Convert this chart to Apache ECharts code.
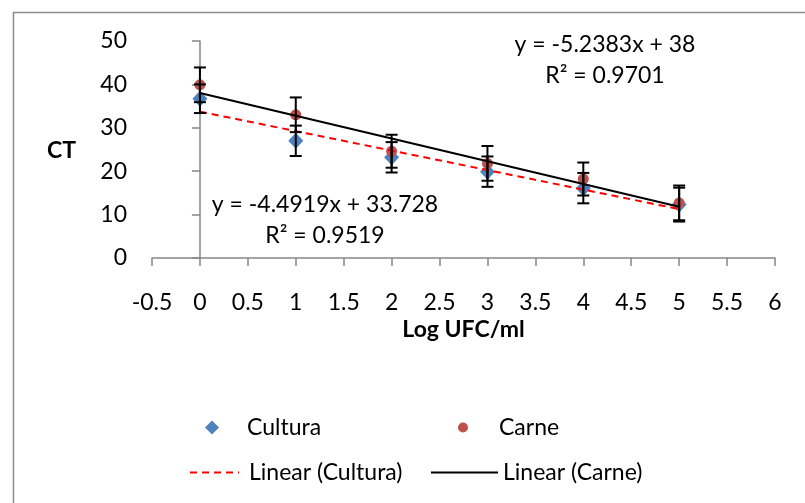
<!DOCTYPE html>
<html>
<head>
<meta charset="utf-8">
<script src="https://cdn.jsdelivr.net/npm/echarts@6/dist/echarts.min.js"></script>
<style>
  html, body { margin: 0; padding: 0; background: #fff; }
  #chart { width: 805px; height: 503px; }
</style>
</head>
<body>
<div id="chart"></div>
<script>
// log UFC/ml dilutions
const logUfc = [0, 1, 2, 3, 4, 5]

// CT means and error (std) per series
const ctCultura = [36.7, 27.0, 23.2, 19.9, 16.1, 12.3]
const errCultura = [3.3, 3.5, 3.5, 3.5, 3.5, 3.9]
const ctCarne = [39.9, 33.0, 24.6, 21.8, 18.2, 12.7]
const errCarne = [4.0, 4.0, 3.8, 4.0, 3.8, 4.0]

// trendline coefficients as printed on the chart: [slope, intercept]
const fitCultura = [-4.4919, 33.728]
const fitCarne = [-5.2383, 38]
const r2Cultura = '0.9519'
const r2Carne = '0.9701'

const xTicks = { min: -0.5, max: 6, interval: 0.5 }
const yTicks = { min: 0, max: 50, interval: 10 }

const FONT = 'Lato'
const FS = 23
const chart = echarts.init(document.getElementById('chart'))

const pts = (xs, ys) => xs.map((x, i) => [x, ys[i]])
const bars = (xs, ys, es) => xs.map((x, i) => [x, ys[i] - es[i], ys[i] + es[i]])
const trend = (fit) => {
  const x0 = logUfc[0], x1 = logUfc[logUfc.length - 1]
  return [[x0, fit[0] * x0 + fit[1]], [x1, fit[0] * x1 + fit[1]]]
}
const fmtEq = (fit) => 'y = ' + fit[0].toFixed(4) + 'x + ' + fit[1]

// error bar with caps
const errorBar = (params, api) => {
  const x = api.value(0)
  const lo = api.coord([x, api.value(1)])
  const hi = api.coord([x, api.value(2)])
  const w = 6
  const style = { stroke: '#000', lineWidth: 2 }
  return {
    type: 'group',
    children: [
      { type: 'line', shape: { x1: lo[0], y1: lo[1], x2: hi[0], y2: hi[1] }, style },
      { type: 'line', shape: { x1: lo[0] - w, y1: lo[1], x2: lo[0] + w, y2: lo[1] }, style },
      { type: 'line', shape: { x1: hi[0] - w, y1: hi[1], x2: hi[0] + w, y2: hi[1] }, style }
    ]
  }
}

const legendAt = (name, left, top, w, h, pad, extra) => ({
  data: [name], left, top, itemWidth: w, itemHeight: h, itemGap: 0,
  textStyle: { fontFamily: FONT, fontSize: FS, color: '#000', padding: [0, 0, 0, pad] },
  selectedMode: false, ...extra
})
const noDot = { itemStyle: { opacity: 0 } }

chart.setOption({
  animation: false,
  grid: { left: 152, right: 30, top: 41, bottom: 245 },
  xAxis: {
    type: 'value', ...xTicks,
    name: 'Log UFC/ml', nameLocation: 'middle', nameGap: 60,
    nameTextStyle: { fontFamily: FONT, fontSize: FS, fontWeight: 'bold', color: '#000' },
    axisLine: { lineStyle: { color: '#868686', width: 1.5 } },
    axisTick: { show: true, length: 8, lineStyle: { color: '#868686', width: 1.5 } },
    axisLabel: { margin: 33, fontFamily: FONT, fontSize: FS, color: '#000' },
    splitLine: { show: false }
  },
  yAxis: {
    type: 'value', ...yTicks,
    axisLine: { show: true, lineStyle: { color: '#868686', width: 1.5 } },
    axisTick: { show: true, length: 8, lineStyle: { color: '#868686', width: 1.5 } },
    axisLabel: { margin: 25, fontFamily: FONT, fontSize: FS, color: '#000' },
    splitLine: { show: false }
  },
  legend: [
    legendAt('Cultura', 200, 411, 14, 14, 23, {}),
    legendAt('Carne', 453, 411, 10, 10, 26, {}),
    legendAt('Linear (Cultura)', 184, 456, 49, 14, 5, noDot),
    legendAt('Linear (Carne)', 425, 456, 67, 14, 0, noDot)
  ],
  graphic: [
    { type: 'rect', left: 11, top: 10, shape: { width: 820, height: 520 },
      style: { fill: 'none', stroke: '#8c8c8c', lineWidth: 1.5 }, silent: true },
    { type: 'text', left: 47, top: 139,
      style: { text: 'CT', fontFamily: FONT, fontSize: FS, fontWeight: 'bold', fill: '#000' } },
    { type: 'text', x: 605, y: 45,
      style: { text: fmtEq(fitCarne), align: 'center', verticalAlign: 'middle', fontFamily: FONT, fontSize: FS, fill: '#000' } },
    { type: 'text', x: 605, y: 76,
      style: { text: 'R² = ' + r2Carne, align: 'center', verticalAlign: 'middle', fontFamily: FONT, fontSize: FS, fill: '#000' } },
    { type: 'text', x: 325, y: 205,
      style: { text: fmtEq(fitCultura), align: 'center', verticalAlign: 'middle', fontFamily: FONT, fontSize: FS, fill: '#000' } },
    { type: 'text', x: 325, y: 236,
      style: { text: 'R² = ' + r2Cultura, align: 'center', verticalAlign: 'middle', fontFamily: FONT, fontSize: FS, fill: '#000' } }
  ],
  series: [
    { name: 'Cultura', type: 'scatter', data: pts(logUfc, ctCultura), symbol: 'diamond',
      symbolSize: [15, 16], itemStyle: { color: '#4F81BD', opacity: 1 }, z: 2 },
    { name: 'Carne', type: 'scatter', data: pts(logUfc, ctCarne), symbol: 'circle',
      symbolSize: 11, itemStyle: { color: '#C0504D', opacity: 1 }, z: 2 },
    { name: 'Linear (Cultura)', type: 'line', data: trend(fitCultura), symbol: 'none',
      lineStyle: { color: '#FF0000', width: 2, type: [7, 5] }, itemStyle: { color: '#FF0000' }, z: 3 },
    { name: 'Linear (Carne)', type: 'line', data: trend(fitCarne), symbol: 'none',
      lineStyle: { color: '#000', width: 2 }, itemStyle: { color: '#000' }, z: 3 },
    { type: 'custom', renderItem: errorBar, data: bars(logUfc, ctCultura, errCultura), z: 4 },
    { type: 'custom', renderItem: errorBar, data: bars(logUfc, ctCarne, errCarne), z: 4 }
  ]
})
</script>
</body>
</html>
